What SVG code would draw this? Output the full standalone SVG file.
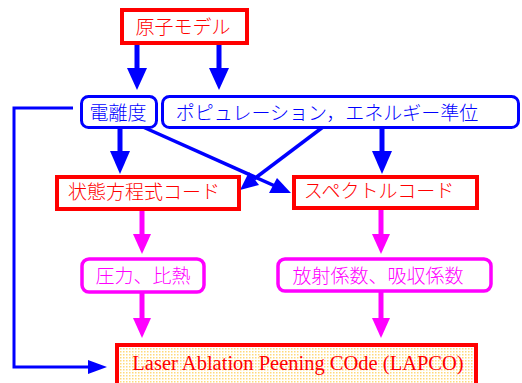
<svg xmlns="http://www.w3.org/2000/svg" width="522" height="383" viewBox="0 0 522 383">
<style>
.jp{font-family:"Noto Sans CJK JP","Noto Sans CJK SC",sans-serif;font-size:19px;font-weight:300;text-anchor:middle;dominant-baseline:central}
.red{fill:#FF0000}.blue{fill:#0000FF}.mag{fill:#FF00FF}
.rbox{fill:#FFFFFF;stroke:#FF0000;stroke-width:4}
.bbox{fill:#FFFFFF;stroke:#0000FF;stroke-width:3}
.mbox{fill:#FFFFFF;stroke:#FF00FF;stroke-width:3.5}
.bl{stroke:#0000FF;fill:none}
.ml{stroke:#FF00FF;fill:none;stroke-width:5}
</style>
<defs>
<pattern id="dots" width="3" height="3" patternUnits="userSpaceOnUse">
<rect width="3" height="3" fill="#FFFFFF"/>
<rect width="1.5" height="1.5" fill="#FFD97A"/>
</pattern>
</defs>
<g id="connectors">
<line class="bl" x1="137" y1="44" x2="137" y2="70" stroke-width="5"/>
<polygon points="127,68 147,68 137,90" fill="#0000FF"/>
<line class="bl" x1="219" y1="44" x2="219" y2="70" stroke-width="5"/>
<polygon points="209,68 229,68 219,90" fill="#0000FF"/>
<line class="bl" x1="120" y1="128" x2="120" y2="153" stroke-width="5"/>
<polygon points="110,151 130,151 120,174" fill="#0000FF"/>
<line class="bl" x1="382" y1="128" x2="382" y2="153" stroke-width="5"/>
<polygon points="372,151 392,151 382,174" fill="#0000FF"/>
<line class="bl" x1="143" y1="127" x2="275" y2="186" stroke-width="3.5"/>
<polygon points="291,193 269,193 277,178" fill="#0000FF"/>
<line class="bl" x1="323" y1="127" x2="254" y2="179" stroke-width="3.5"/>
<polygon points="240,190 249,172 259,185" fill="#0000FF"/>
<polyline class="bl" points="73,108 14,108 14,367 92,367" stroke-width="3"/>
<polygon points="88,360 88,374 107,367" fill="#0000FF"/>
<line class="ml" x1="142" y1="210" x2="142" y2="236"/>
<polygon points="133,234 151,234 142,254" fill="#FF00FF"/>
<line class="ml" x1="381" y1="209" x2="381" y2="236"/>
<polygon points="372,234 390,234 381,254" fill="#FF00FF"/>
<line class="ml" x1="142" y1="293" x2="142" y2="320"/>
<polygon points="133,318 151,318 142,338" fill="#FF00FF"/>
<line class="ml" x1="381" y1="292" x2="381" y2="320"/>
<polygon points="372,318 390,318 381,338" fill="#FF00FF"/>
</g>
<g id="atom-model">
<rect class="rbox" x="122" y="10" width="125" height="33"/>
<text class="jp red" x="183" y="25">原子モデル</text>
</g>
<g id="ionization">
<rect class="bbox" x="81.5" y="96.5" width="75" height="31" rx="7"/>
<text class="jp blue" x="118" y="111">電離度</text>
</g>
<g id="population">
<rect class="bbox" x="162.5" y="96.5" width="356" height="31" rx="7"/>
<text class="jp blue" x="327" y="111">ポピュレーション，エネルギー準位</text>
</g>
<g id="eos-code">
<rect class="rbox" x="57" y="177" width="182" height="32"/>
<text class="jp red" x="144" y="190">状態方程式コード</text>
</g>
<g id="spectrum-code">
<rect class="rbox" x="294" y="177" width="183" height="31"/>
<text class="jp red" x="379" y="189">スペクトルコード</text>
</g>
<g id="pressure-heat">
<rect class="mbox" x="82" y="259" width="122" height="33" rx="7"/>
<text class="jp mag" x="143" y="274">圧力、比熱</text>
</g>
<g id="coefficients">
<rect class="mbox" x="278" y="259" width="213" height="32" rx="7"/>
<text class="jp mag" x="378" y="274">放射係数、吸収係数</text>
</g>
<g id="lapco">
<rect x="117" y="345" width="359" height="44" fill="url(#dots)" stroke="#FF0000" stroke-width="4"/>
<text x="298" y="370" font-family="Liberation Serif,serif" font-size="20.5" fill="#FF0000" text-anchor="middle">Laser Ablation Peening COde (LAPCO)</text>
</g>
</svg>
